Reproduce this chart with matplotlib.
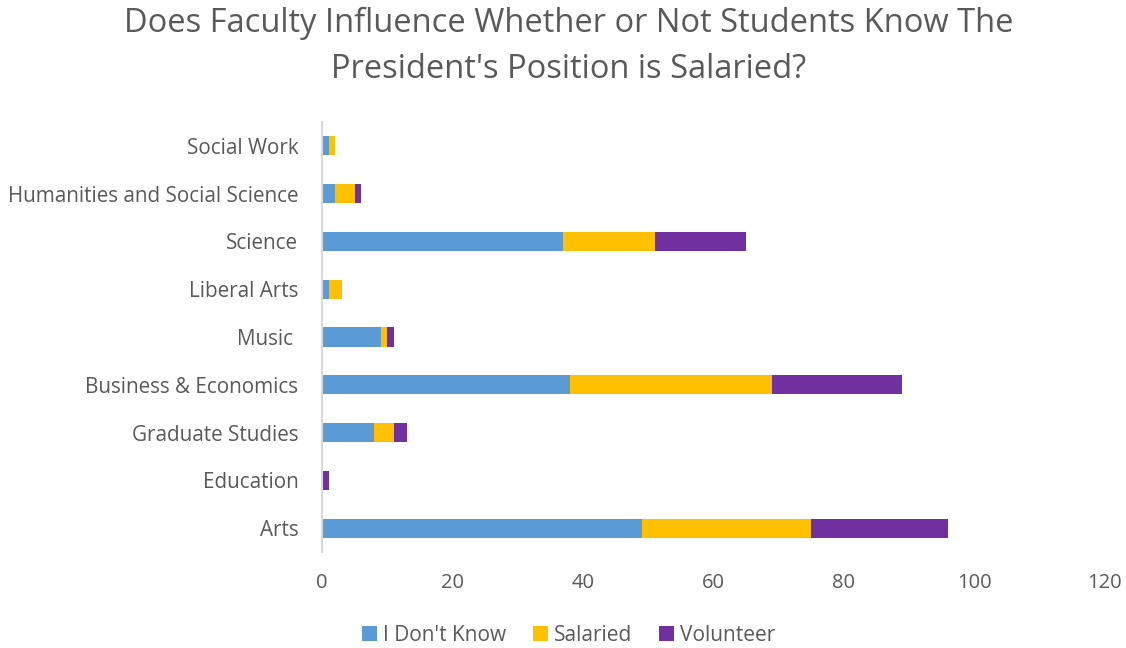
import numpy as np
import matplotlib.pyplot as plt

plt.rcParams['font.family'] = ['Open Sans', 'DejaVu Sans']

# faculties, bottom to top
faculties = ['Arts', 'Education', 'Graduate Studies', 'Business & Economics',
             'Music ', 'Liberal Arts', 'Science',
             'Humanities and Social Science', 'Social Work']
dont_know = [49, 0, 8, 38, 9, 1, 37, 2, 1]
salaried = [26, 0, 3, 31, 1, 2, 14, 3, 1]
volunteer = [21, 1, 2, 20, 1, 0, 14, 1, 0]

text_col = '#595959'

fig = plt.figure(figsize=(11.26, 6.48), dpi=100)
ax = fig.add_axes([0.286, 0.148, 0.695, 0.664])

y = np.arange(len(faculties))
a = np.array(dont_know)
b = np.array(salaried)
c = np.array(volunteer)
h = 0.4
ax.barh(y, a, height=h, color='#5b9bd5', label="I Don't Know")
ax.barh(y, b, height=h, left=a, color='#ffc000', label='Salaried')
ax.barh(y, c, height=h, left=a + b, color='#7030a0', label='Volunteer')

ax.set_xlim(0, 120)
ax.set_ylim(-0.5, len(faculties) - 0.5)
ax.set_xticks(np.arange(0, 121, 20))
ax.set_yticks(y)
ax.set_yticklabels(faculties)
ax.tick_params(axis='both', length=0, labelsize=14.5, colors=text_col)
ax.tick_params(axis='y', labelsize=14.9, pad=17)
ax.tick_params(axis='x', pad=15)
for s in ['top', 'right', 'bottom']:
    ax.spines[s].set_visible(False)
ax.spines['left'].set_color('#d9d9d9')
ax.spines['left'].set_linewidth(1.5)

fig.suptitle("Does Faculty Influence Whether or Not Students Know The\nPresident's Position is Salaried?",
             x=0.505, y=0.99, fontsize=23.5, color=text_col, linespacing=1.55)

fig.legend(loc='center', bbox_to_anchor=(0.505, 0.02), ncol=3, frameon=False,
           fontsize=15, labelcolor=text_col, handlelength=0.7, handleheight=0.7,
           handletextpad=0.3, columnspacing=1.3, borderpad=0)

fig.savefig('out.png', dpi=100)
